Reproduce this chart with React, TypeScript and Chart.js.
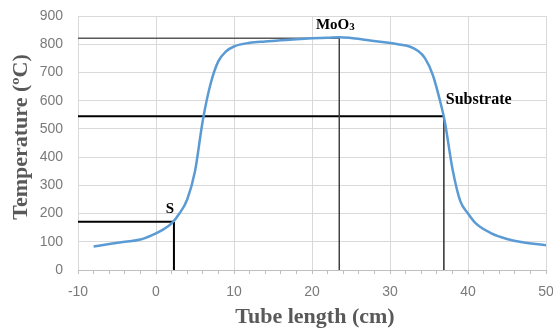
import React, { useEffect, useRef } from "react";
import { Chart, registerables } from "chart.js";

Chart.register(...registerables);

// Temperature profile along the tube
const tubeX = [-8, -6, -4, -2, 0, 1, 2, 3, 4, 5, 6, 7, 8, 9, 10, 12, 14, 16, 18, 20, 22, 23.5, 25, 27, 29, 31, 32.5, 33.5, 34.5, 35.5, 36.5, 37, 38, 39, 40, 41, 43, 45, 47, 50];
const tempY = [83, 92, 100, 108, 130, 145, 165, 200, 250, 350, 530, 660, 740, 775, 792, 805, 810, 814, 818, 821, 823, 825, 822, 815, 808, 800, 792, 778, 750, 690, 590, 530, 360, 245, 200, 165, 130, 110, 98, 88];

// Marker positions: [x, temperature]
const markerLabels = ["MoO3", "Substrate", "S"];
const markerX = [23.5, 36.9, 2.3];
const markerT = [821, 545, 171];

const xTickLabels = [-10, 0, 10, 20, 30, 40, 50];
const yTickLabels = [0, 100, 200, 300, 400, 500, 600, 700, 800, 900];

const X_MIN = -10;
const X_MAX = 50;

export default function App() {
  const ref = useRef<HTMLCanvasElement | null>(null);

  useEffect(() => {
    const canvas = ref.current;
    if (!canvas) return;

    const curve = tubeX.map((x, i) => ({ x, y: tempY[i] }));
    const hLine = (i: number) => [
      { x: X_MIN, y: markerT[i] },
      { x: markerX[i], y: markerT[i] },
    ];
    const vLine = (i: number) => [
      { x: markerX[i], y: markerT[i] },
      { x: markerX[i], y: 0 },
    ];

    const lineDs = (data: any, color: string, width: number) => ({
      data,
      borderColor: color,
      borderWidth: width,
      pointRadius: 0,
      fill: false,
      tension: 0,
      order: 2,
    });

    const textPlugin = {
      id: "texts",
      afterDraw(chart: any) {
        const ctx = chart.ctx;
        const xs = chart.scales.x;
        const ys = chart.scales.y;
        const area = chart.chartArea;
        ctx.save();
        // Axis titles
        ctx.fillStyle = "#595959";
        ctx.font = "bold 22px 'Liberation Serif', 'Times New Roman', serif";
        ctx.textAlign = "center";
        ctx.textBaseline = "alphabetic";
        ctx.fillText("Tube length (cm)", (area.left + area.right) / 2 + 3, 323);
        ctx.save();
        ctx.translate(27, (area.top + area.bottom) / 2 - 6);
        ctx.rotate(-Math.PI / 2);
        ctx.fillText("Temperature (ºC)", 0, 0);
        ctx.restore();

        // Marker labels
        ctx.fillStyle = "#000000";
        ctx.textAlign = "left";
        // MoO3
        {
          const px = xs.getPixelForValue(markerX[0]);
          const py = ys.getPixelForValue(markerT[0]);
          ctx.font = "bold 15px 'Liberation Serif', 'Times New Roman', serif";
          const base = markerLabels[0].slice(0, 3);
          const sub = markerLabels[0].slice(3);
          const w1 = ctx.measureText(base).width;
          ctx.font = "bold 11px 'Liberation Serif', 'Times New Roman', serif";
          const w2 = ctx.measureText(sub).width;
          const left = px - 4 - (w1 + w2) / 2;
          ctx.font = "bold 15px 'Liberation Serif', 'Times New Roman', serif";
          ctx.fillText(base, left, py - 9);
          ctx.font = "bold 11px 'Liberation Serif', 'Times New Roman', serif";
          ctx.fillText(sub, left + w1, py - 8);
        }
        // Substrate
        {
          const px = xs.getPixelForValue(markerX[1]);
          const py = ys.getPixelForValue(markerT[1]);
          ctx.font = "bold 16px 'Liberation Serif', 'Times New Roman', serif";
          ctx.fillText(markerLabels[1], px + 2, py - 12);
        }
        // S
        {
          const px = xs.getPixelForValue(markerX[2]);
          const py = ys.getPixelForValue(markerT[2]);
          ctx.font = "bold 15px 'Liberation Serif', 'Times New Roman', serif";
          ctx.textAlign = "center";
          ctx.fillText(markerLabels[2], px - 4, py - 9);
        }
        ctx.restore();
      },
    };

    const chart = new Chart(canvas, {
      type: "line",
      data: {
        datasets: [
          {
            data: curve,
            borderColor: "#5B9BD5",
            borderWidth: 2.5,
            pointRadius: 0,
            fill: false,
            cubicInterpolationMode: "monotone",
            order: 1,
          } as any,
          lineDs(hLine(0), "#595959", 1.5),
          lineDs(vLine(0), "#404040", 1),
          lineDs(hLine(1), "#000000", 2),
          lineDs(vLine(1), "#404040", 1),
          lineDs(hLine(2), "#000000", 2),
          lineDs(vLine(2), "#000000", 2),
        ],
      },
      options: {
        animation: false,
        responsive: false,
        maintainAspectRatio: false,
        layout: { padding: { top: 16, right: 7, left: 0, bottom: 0 } },
        plugins: {
          legend: { display: false },
          tooltip: { enabled: false },
        },
        scales: {
          x: {
            type: "linear",
            min: X_MIN,
            max: X_MAX,
            afterFit(scale: any) {
              scale.height = 62;
              scale.paddingLeft = 0;
              scale.paddingRight = 0;
            },
            afterBuildTicks(scale: any) {
              const t: any[] = [];
              for (let v = X_MIN; v <= X_MAX; v += 2) t.push({ value: v });
              scale.ticks = t;
            },
            ticks: {
              autoSkip: false,
              maxRotation: 0,
              padding: 10,
              color: "#7a7a7a",
              font: { family: "'Liberation Sans', Arial, sans-serif", size: 14 },
              callback: (v: any) => (xTickLabels.includes(Number(v)) ? String(v) : ""),
            },
            grid: {
              color: (c: any) =>
                c.tick && xTickLabels.includes(c.tick.value) ? "#d9d9d9" : "rgba(0,0,0,0)",
              tickColor: "#bfbfbf",
              tickLength: 4,
              drawTicks: true,
              lineWidth: 1,
            },
            border: { display: true, color: "#bfbfbf", width: 1 },
          },
          y: {
            type: "linear",
            min: 0,
            max: 900,
            afterFit(scale: any) {
              scale.width = 78;
              scale.paddingTop = 0;
              scale.paddingBottom = 0;
            },
            afterBuildTicks(scale: any) {
              scale.ticks = yTickLabels.map((v) => ({ value: v }));
            },
            ticks: {
              padding: 15,
              color: "#7a7a7a",
              font: { family: "'Liberation Sans', Arial, sans-serif", size: 14 },
            },
            grid: { color: "#d9d9d9", drawTicks: false, lineWidth: 1 },
            border: { display: false },
          },
        },
      },
      plugins: [textPlugin],
    });

    return () => chart.destroy();
  }, []);

  return (
    <div style={{ position: "fixed", left: 0, top: 0, width: 553, height: 332, background: "#fff" }}>
      <canvas ref={ref} width={553} height={332} style={{ width: 553, height: 332, display: "block" }} />
    </div>
  );
}
